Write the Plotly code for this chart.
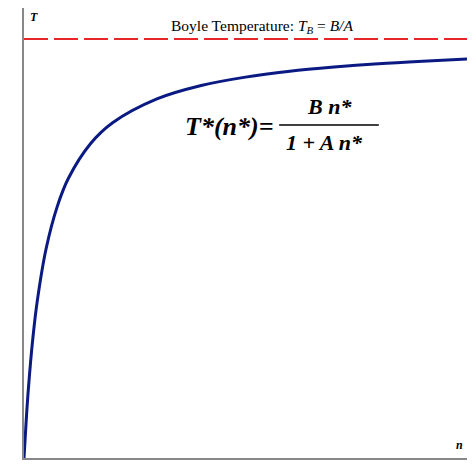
import plotly.graph_objects as go

n_vals = [0, 0.05, 0.1, 0.2, 0.3, 0.5, 0.75, 1.0, 1.5, 2.0, 3.0, 4.0, 5.0, 6.0, 7.0, 8.0, 9.0, 10.0]
t_vals = [0, 0.09, 0.167, 0.286, 0.375, 0.5, 0.6, 0.667, 0.75, 0.8, 0.857, 0.889, 0.909, 0.923, 0.933, 0.941, 0.947, 0.952]
boyle_t = 1.0
x_range = [0, 10]
y_range = [0, 1.074]

SERIF = "Liberation Serif"

fig = go.Figure()
fig.add_trace(go.Scatter(
    x=n_vals, y=t_vals, mode="lines",
    line=dict(color="#0b1a82", width=3, shape="spline"),
    hoverinfo="skip", showlegend=False,
))
fig.add_trace(go.Scatter(
    x=x_range, y=[boyle_t, boyle_t], mode="lines",
    line=dict(color="#e8262a", width=2, dash="24px,6px"),
    hoverinfo="skip", showlegend=False,
))

# fraction bar of the formula
fig.add_shape(type="line", x0=5.76, x1=8.01, y0=0.795, y1=0.795,
              line=dict(color="black", width=1.5))

ann = [
    dict(x=0.23, y=1.074, text="<b><i>T</i></b>", size=12, yanchor="top"),
    dict(x=9.84, y=0.031, text="<b><i>n</i></b>", size=12, yanchor="middle"),
    dict(x=5.37, y=1.031, text="Boyle Temperature: <i>T<sub>B</sub></i> = <i>B/A</i>", size=15.5, yanchor="middle"),
    dict(x=4.63, y=0.79, text="<b><i>T*(n*)=</i></b>", size=26, yanchor="middle"),
    dict(x=6.9, y=0.838, text="<b><i>B n*</i></b>", size=22, yanchor="middle"),
    dict(x=6.79, y=0.752, text="<b><i>1 + A n*</i></b>", size=22, yanchor="middle"),
]
for a in ann:
    fig.add_annotation(x=a["x"], y=a["y"], text=a["text"], showarrow=False,
                       yanchor=a["yanchor"],
                       font=dict(family=SERIF, size=a["size"], color="black"))

fig.update_xaxes(range=x_range, showgrid=False, zeroline=False, showticklabels=False,
                 ticks="", showline=True, linecolor="#888888", linewidth=2)
fig.update_yaxes(range=y_range, showgrid=False, zeroline=False, showticklabels=False,
                 ticks="", showline=True, linecolor="#888888", linewidth=2)
# the page body keeps an 8px margin, so the figure is sized to fit the window
fig.update_layout(
    width=468, height=460,
    margin=dict(l=16, r=9, t=0, b=10),
    plot_bgcolor="white", paper_bgcolor="white",
)
fig.write_html("out.html")
